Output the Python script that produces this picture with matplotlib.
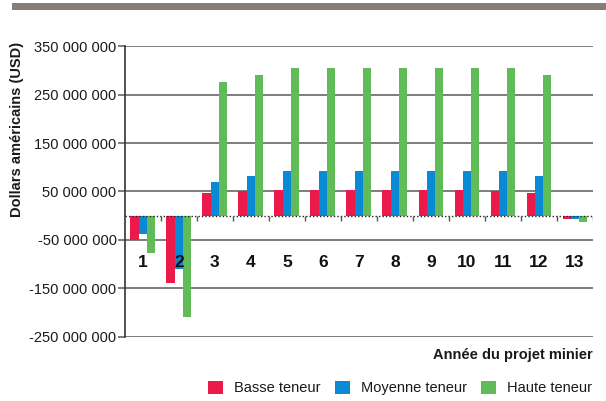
import matplotlib.pyplot as plt
from matplotlib.patches import Rectangle, Patch

plt.rcParams['font.family'] = ['Liberation Sans', 'DejaVu Sans']

years = ['1', '2', '3', '4', '5', '6', '7', '8', '9', '10', '11', '12', '13']
basse = [-50e6, -139e6, 46e6, 51e6, 54e6, 54e6, 54e6, 54e6, 54e6, 54e6, 51e6, 46e6, -7e6]
moyenne = [-38e6, -109e6, 69e6, 82e6, 93e6, 93e6, 93e6, 93e6, 93e6, 93e6, 93e6, 82e6, -7e6]
haute = [-77e6, -209e6, 275e6, 290e6, 305e6, 305e6, 305e6, 305e6, 305e6, 305e6, 305e6, 290e6, -12e6]
yticks = [-250e6, -150e6, -50e6, 50e6, 150e6, 250e6, 350e6]
ytick_labels = ['-250 000 000', '-150 000 000', '-50 000 000', '50 000 000',
                '150 000 000', '250 000 000', '350 000 000']

series = [('Basse teneur', basse, '#ec1a4b'),
          ('Moyenne teneur', moyenne, '#0a8ad5'),
          ('Haute teneur', haute, '#60bb58')]

fig = plt.figure(figsize=(6.06, 4.01), dpi=100)
ax = fig.add_axes([0.206, 0.160, 0.7725, 0.725])

# bandeau en haut
fig.add_artist(Rectangle((12 / 606, 1 - 10 / 401), 1, 7 / 401,
                         transform=fig.transFigure, color='#877d74', lw=0))

x = list(range(1, len(years) + 1))
w = 0.23
for k, (name, vals, col) in enumerate(series):
    ax.bar([xi + (k - 1) * w for xi in x], vals, width=w, color=col, lw=0, zorder=3)

ax.set_xlim(0.5, len(years) + 0.5)
ax.set_ylim(yticks[0], yticks[-1])
ax.set_yticks(yticks)
ax.set_yticklabels(ytick_labels, fontsize=10.5, color='#1a1a1a')
ax.set_xticks([])
ax.yaxis.grid(True, color='#7d7d7d', lw=1.4, zorder=0)
ax.tick_params(axis='y', length=5, width=1.4, color='#7d7d7d', pad=1)

for s in ['top', 'right', 'bottom']:
    ax.spines[s].set_visible(False)
ax.spines['left'].set_color('#333333')
ax.spines['left'].set_linewidth(1.2)

# ligne du zéro pointillée et petites graduations
ax.axhline(0, color='#222222', lw=1, ls=(0, (1, 1.5)), zorder=4)
ax.vlines([xi + 0.5 for xi in x], 0, -10e6, color='#555555', lw=1, zorder=4)

for xi, lab in zip(x, years):
    ax.text(xi, -97e6, lab, ha='center', va='center', fontsize=12.5,
            fontweight='bold', color='#111111', zorder=5)

ax.set_ylabel('Dollars américains (USD)', fontsize=10.5, fontweight='bold', color='#1a1a1a')
ax.yaxis.set_label_coords(-0.215, 0.715)

fig.text(593 / 606, 1 - 355 / 401, 'Année du projet minier', ha='right', va='center',
         fontsize=10.5, fontweight='bold', color='#1a1a1a')

handles = [Patch(color=col, lw=0) for _, _, col in series]
fig.legend(handles, [s[0] for s in series], loc='center', ncol=3,
           bbox_to_anchor=(400 / 606, 1 - 388 / 401), frameon=False,
           fontsize=10.5, handlelength=1.0, handleheight=1.0,
           handletextpad=0.75, columnspacing=1.0, borderpad=0, labelcolor='#1a1a1a')

fig.savefig('out.png', dpi=100)
